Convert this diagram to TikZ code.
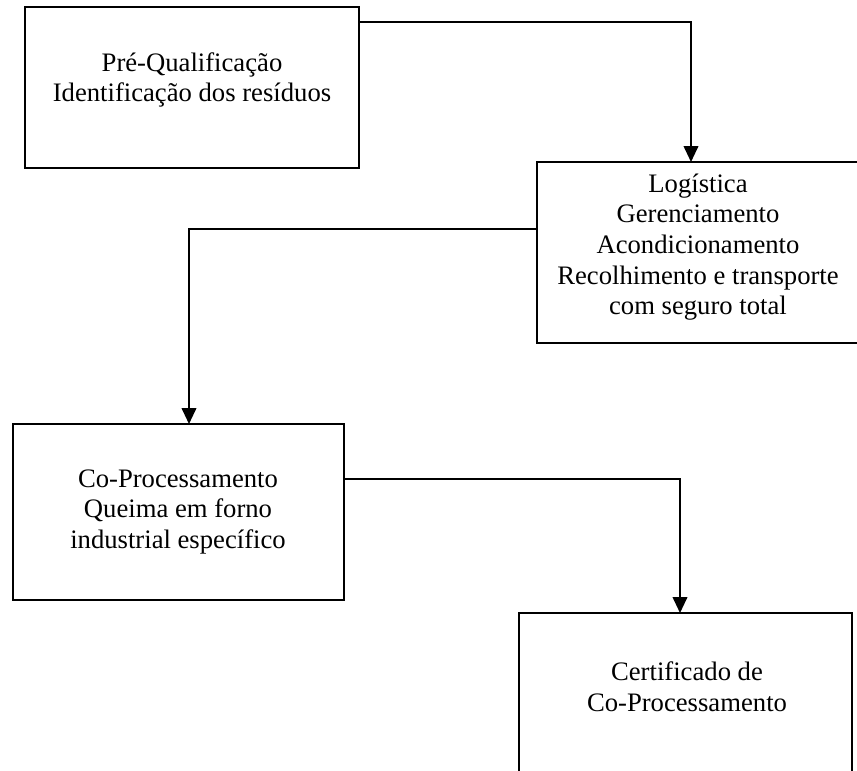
\documentclass[tikz,border=0pt]{standalone}
\usepackage{fontspec}
\setmainfont{Liberation Serif}
\usetikzlibrary{arrows.meta}
\begin{document}
\begin{tikzpicture}[x=0.75pt,y=-0.75pt,
  box/.style={draw,line width=1.4pt,inner sep=0pt,outer sep=0pt},
  lbl/.style={align=center,inner sep=0pt,font=\fontsize{20}{23}\selectfont},
  conn/.style={line width=1.4pt,-{Triangle[length=12pt,width=11pt]}}]
\useasboundingbox (0,0) rectangle (857,771);
\node[box,minimum width={334*0.75pt},minimum height={161*0.75pt}] (b1) at (192,87.5) {};
\node[box,minimum width={323*0.75pt},minimum height={181*0.75pt}] (b2) at (698.5,252.5) {};
\node[box,minimum width={331*0.75pt},minimum height={176*0.75pt}] (b3) at (178.5,512) {};
\node[box,minimum width={333*0.75pt},minimum height={176*0.75pt}] (b4) at (685.5,701) {};
\node[lbl] (t1) at (192,80) {Pré-Qualificação\\Identificação dos resíduos};
\node[lbl] (t2) at (698,247) {Logística\\Gerenciamento\\Acondicionamento\\Recolhimento e transporte\\com seguro total};
\node[lbl] (t3) at (178,512) {Co-Processamento\\Queima em forno\\industrial específico};
\node[lbl] (t4) at (687,687) {Certificado de\\Co-Processamento};
\coordinate (k1) at (691,22);
\coordinate (k2) at (189,229);
\coordinate (k3) at (680,479);
\draw[conn] (b1.east |- k1) -| (b2.north -| k1);
\draw[conn] (b2.west |- k2) -| (b3.north -| k2);
\draw[conn] (b3.east |- k3) -| (b4.north -| k3);
\end{tikzpicture}
\end{document}
